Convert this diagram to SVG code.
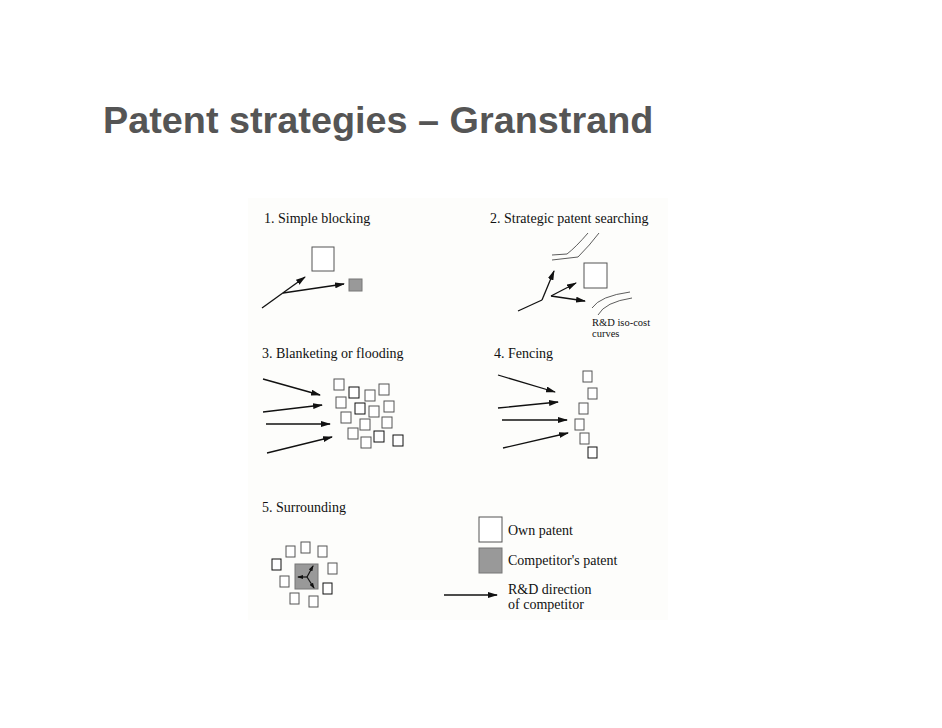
<svg xmlns="http://www.w3.org/2000/svg" width="942" height="728" viewBox="0 0 942 728">
<style>
.t{font-family:"Liberation Serif",serif;font-size:14px;fill:#111}
.s{font-family:"Liberation Serif",serif;font-size:10.5px;fill:#111}
.o{fill:#fff;stroke:#555;stroke-width:1}
.k{fill:#fff;stroke:#111;stroke-width:1}
.g{fill:#999;stroke:#777;stroke-width:1}
.a{stroke:#111;stroke-width:1.3;fill:none;marker-end:url(#ah)}
.c{stroke:#333;stroke-width:0.8;fill:none}
</style>
<defs><marker id="ah" markerWidth="10" markerHeight="6" refX="9" refY="3" orient="auto" markerUnits="userSpaceOnUse"><path d="M0,0 L10,3 L0,6 Z" fill="#111"/></marker>
<marker id="as" markerWidth="6" markerHeight="4" refX="5" refY="2" orient="auto" markerUnits="userSpaceOnUse"><path d="M0,0 L6,2 L0,4 Z" fill="#111"/></marker></defs>
<rect width="942" height="728" fill="#fff"/>
<text x="103" y="133" font-family="Liberation Sans,Arial,sans-serif" font-weight="bold" font-size="37.8" fill="#555">Patent strategies – Granstrand</text>
<rect x="248" y="198" width="420" height="422" fill="#fdfdfb"/>
<g id="p1"><text class="t" x="264" y="223">1. Simple blocking</text>
<rect class="o" x="312" y="247" width="22" height="24"/><rect class="g" x="349" y="279" width="13" height="12"/></g>
<g id="p2"><text class="t" x="490" y="223">2. Strategic patent searching</text>
<rect class="o" x="584" y="263" width="23" height="25"/>
<text class="s" x="592" y="326">R&amp;D iso-cost</text><text class="s" x="592" y="337">curves</text></g>
<g id="p3"><text class="t" x="262" y="358">3. Blanketing or flooding</text>
<g class="o"><rect x="334" y="379" width="10" height="11"/><rect x="349" y="387" width="10" height="11" class="k"/><rect x="365" y="390" width="10" height="11"/><rect x="379" y="384" width="10" height="11"/><rect x="336" y="397" width="10" height="11"/><rect x="355" y="403" width="10" height="11" class="k"/><rect x="369" y="406" width="10" height="11"/><rect x="384" y="401" width="10" height="11"/><rect x="341" y="412" width="10" height="11"/><rect x="360" y="419" width="10" height="11"/><rect x="382" y="417" width="10" height="11"/><rect x="348" y="428" width="10" height="11"/><rect x="361" y="437" width="10" height="11"/><rect x="374" y="431" width="10" height="11" class="k"/><rect x="393" y="435" width="10" height="11" class="k"/></g></g>
<g id="p4"><text class="t" x="494" y="358">4. Fencing</text>
<g class="o"><rect x="583" y="371" width="9" height="11"/><rect x="588" y="388" width="9" height="11"/><rect x="579" y="403" width="9" height="11"/><rect x="575" y="419" width="9" height="11"/><rect x="580" y="433" width="9" height="11"/><rect x="588" y="447" width="9" height="11" class="k"/></g></g>
<g id="p5"><text class="t" x="262" y="512">5. Surrounding</text>
<g class="o"><rect x="286" y="546" width="9" height="11"/><rect x="301" y="542" width="9" height="11"/><rect x="318" y="546" width="9" height="11"/><rect x="272" y="559" width="9" height="11" class="k"/><rect x="328" y="563" width="9" height="11"/><rect x="280" y="576" width="9" height="11"/><rect x="323" y="583" width="9" height="11" class="k"/><rect x="290" y="593" width="9" height="11"/><rect x="309" y="596" width="9" height="11"/></g>
<rect class="g" x="295" y="564" width="23" height="25"/></g>
<g id="legend"><rect class="o" x="479" y="517" width="23" height="25"/><rect class="g" x="479" y="548" width="23" height="25"/>
<text class="t" x="508" y="535">Own patent</text><text class="t" x="508" y="565">Competitor's patent</text>
<text class="t" x="508" y="594">R&amp;D direction</text><text class="t" x="508" y="609">of competitor</text></g>
<g id="connectors">
<line class="a" x1="262" y1="308" x2="305" y2="277"/><line class="a" x1="283" y1="293" x2="344" y2="284"/>
<line x1="518" y1="311" x2="542" y2="300" stroke="#111" stroke-width="1.3"/>
<line class="a" x1="542" y1="300" x2="554" y2="271"/>
<line class="a" x1="551" y1="296" x2="576" y2="283"/><line class="a" x1="551" y1="296" x2="585" y2="301"/>
<path class="c" d="M552,255 L567,254 Q576,247 588,233"/><path class="c" d="M552,260 L578,257 Q590,245 599,233"/>
<path class="c" d="M592,308 Q600,296 630,292"/><path class="c" d="M598,315 Q605,302 632,298"/>
<line class="a" x1="263" y1="379" x2="320" y2="395"/><line class="a" x1="263" y1="412" x2="322" y2="405"/><line class="a" x1="266" y1="424" x2="330" y2="424"/><line class="a" x1="267" y1="453" x2="332" y2="437"/>
<line class="a" x1="498" y1="375" x2="555" y2="392"/><line class="a" x1="498" y1="408" x2="558" y2="402"/><line class="a" x1="502" y1="420" x2="567" y2="420"/><line class="a" x1="503" y1="448" x2="568" y2="433"/>
<g stroke="#111" stroke-width="1.2" marker-end="url(#as)"><line x1="307" y1="577" x2="298" y2="577"/><line x1="307" y1="577" x2="313" y2="566"/><line x1="307" y1="577" x2="314" y2="588"/></g>
<line class="a" x1="444" y1="595" x2="497" y2="595"/>
</g>
</svg>
